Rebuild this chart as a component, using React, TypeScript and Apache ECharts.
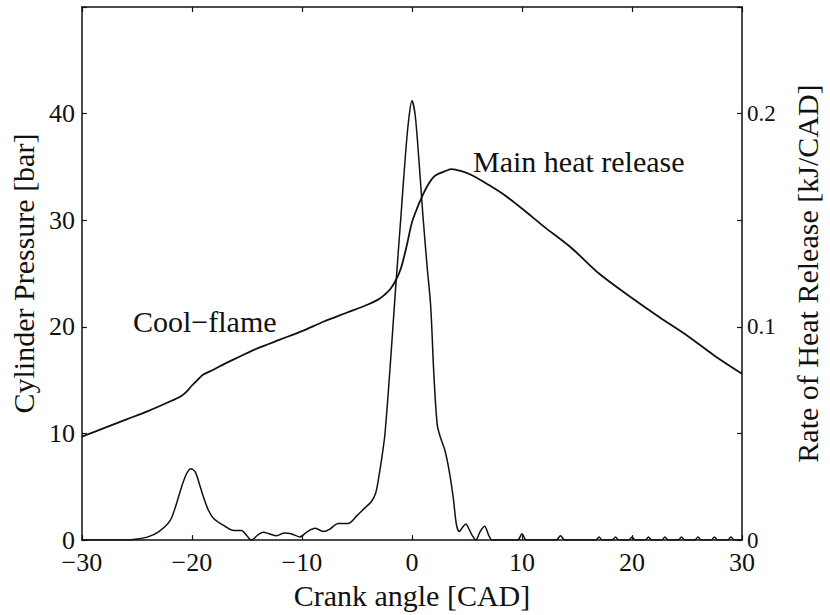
import React, { useEffect, useRef } from "react";
import * as echarts from "echarts";

// Crank angle [CAD] samples for the cylinder pressure trace
const pressureAngle = [
  -30, -28, -26, -24, -22, -21, -20.5, -20, -19.5, -19, -18, -17, -16, -14, -12, -10, -8, -6, -4, -3,
  -2.5, -2, -1.5, -1, -0.5, 0, 0.5, 1, 1.5, 2, 2.5, 3, 3.6, 4.5, 5.5, 7, 8.5, 10, 12, 14.5, 17, 20,
  22.5, 25, 27.5, 30,
];
// Cylinder pressure [bar]
const pressureValue = [
  9.7, 10.5, 11.3, 12.1, 13.0, 13.5, 13.9, 14.5, 15.0, 15.5, 16.0, 16.55, 17.05, 18.0, 18.8, 19.6,
  20.5, 21.3, 22.1, 22.6, 23.0, 23.5, 24.3, 25.5, 27.5, 29.8, 31.2, 32.4, 33.4, 34.1, 34.4, 34.6, 34.8,
  34.6, 34.2, 33.3, 32.3, 31.1, 29.4, 27.4, 25.0, 22.7, 20.9, 19.2, 17.3, 15.6,
];

// Crank angle [CAD] samples for the rate of heat release trace
const hrrAngle = [
  -30, -26, -25, -24, -23, -22, -21.5, -21, -20.5, -20.1, -19.7, -19.3, -19, -18.5, -18, -17, -16.2,
  -15.5, -15, -14.6, -14, -13.5, -13, -12.3, -11.6, -11, -10.2, -9.5, -8.8, -8, -7.5, -6.7, -5.8, -5,
  -4.3, -3.7, -3.3, -3, -2.7, -2.45, -2, -1.5, -1, -0.6, -0.3, 0, 0.3, 0.65, 1, 1.4, 1.7, 2, 2.3, 2.6,
  3, 3.4, 3.75, 4.05, 4.3, 4.6, 4.9, 5.2, 5.5, 5.8, 6.2, 6.6, 7, 7.3, 9.6, 10, 10.4, 13.1, 13.5, 13.9,
  16.7, 17, 17.3, 18.2, 18.5, 18.8, 19.7, 20, 20.3, 21.2, 21.5, 21.8, 22.7, 23, 23.3, 24.2, 24.5, 24.8,
  25.7, 26, 26.3, 27.2, 27.5, 27.8, 28.7, 29, 29.3, 30,
];
// Rate of heat release [kJ/CAD]
const hrrValue = [
  0, 0, 0.0005, 0.0015, 0.004, 0.009, 0.0155, 0.024, 0.031, 0.0335, 0.032, 0.026, 0.021, 0.014, 0.01,
  0.0065, 0.0045, 0.0045, 0.002, 0, 0.0025, 0.0037, 0.003, 0.002, 0.0033, 0.003, 0.0015, 0.004, 0.0055,
  0.004, 0.005, 0.0078, 0.0078, 0.0115, 0.015, 0.018, 0.022, 0.03, 0.04, 0.05, 0.08, 0.117, 0.152,
  0.18, 0.197, 0.206, 0.199, 0.177, 0.152, 0.127, 0.11, 0.077, 0.054, 0.048, 0.042, 0.032, 0.02,
  0.007, 0.004, 0.006, 0.0075, 0.005, 0.002, 0, 0.004, 0.0065, 0.002, 0, 0, 0.003, 0, 0, 0.002, 0, 0,
  0.0015, 0, 0, 0.0015, 0, 0, 0.0015, 0, 0, 0.0015, 0, 0, 0.0015, 0, 0, 0.0015, 0, 0, 0.0015, 0, 0,
  0.0015, 0, 0, 0.0015, 0, 0,
];

const xTicks = [-30, -20, -10, 0, 10, 20, 30];
const rightLabels = [0, 0.1, 0.2];

const FONT = "'Liberation Serif', 'Times New Roman', serif";
const INK = "#111";

export default function App() {
  const ref = useRef<HTMLDivElement>(null);

  useEffect(() => {
    if (!ref.current) return;
    const chart = echarts.init(ref.current, undefined, { renderer: "svg" });

    const pressureData = pressureAngle.map((a, i) => [a, pressureValue[i]]);
    const hrrData = hrrAngle.map((a, i) => [a, hrrValue[i]]);

    const minus = (v: number) => (v < 0 ? "\u2212" + Math.abs(v) : String(v));

    const axisLine = { show: true, onZero: false, lineStyle: { color: INK, width: 1.5 } };
    const axisTick = { show: true, inside: true, length: 5, lineStyle: { color: INK, width: 1.2 } };

    chart.setOption({
      animation: false,
      backgroundColor: "#fff",
      grid: { left: 77, right: 75, top: 7, bottom: 68, containLabel: false },
      xAxis: [
        {
          type: "value",
          position: "bottom",
          min: -30,
          max: 30,
          interval: 10,
          axisLine,
          axisTick,
          splitLine: { show: false },
          axisLabel: {
            color: INK,
            fontFamily: FONT,
            fontSize: 26,
            margin: 9,
            formatter: (v: number) => (xTicks.includes(v) ? minus(v) : ""),
          },
          name: "Crank angle [CAD]",
          nameLocation: "middle",
          nameGap: 35,
          nameTextStyle: { color: INK, fontFamily: FONT, fontSize: 30 },
        },
        {
          type: "value",
          position: "top",
          min: -30,
          max: 30,
          interval: 10,
          axisLine,
          axisTick,
          splitLine: { show: false },
          axisLabel: { show: false },
        },
      ],
      yAxis: [
        {
          type: "value",
          position: "left",
          min: 0,
          max: 50,
          interval: 10,
          axisLine,
          axisTick,
          splitLine: { show: false },
          axisLabel: {
            color: INK,
            fontFamily: FONT,
            fontSize: 26,
            margin: 7,
            formatter: (v: number) => (v >= 50 ? "" : String(v)),
          },
          name: "Cylinder Pressure [bar]",
          nameLocation: "middle",
          nameRotate: 90,
          nameGap: 31,
          nameTextStyle: { color: INK, fontFamily: FONT, fontSize: 30 },
        },
        {
          type: "value",
          position: "right",
          min: 0,
          max: 0.25,
          interval: 0.05,
          axisLine,
          axisTick,
          splitLine: { show: false },
          axisLabel: {
            color: INK,
            fontFamily: FONT,
            fontSize: 23,
            margin: 5,
            formatter: (v: number) =>
              rightLabels.some((r) => Math.abs(r - v) < 1e-9) ? String(Math.round(v * 10) / 10) : "",
          },
          name: "Rate of Heat Release [kJ/CAD]",
          nameLocation: "middle",
          nameRotate: 90,
          nameGap: 50,
          nameTextStyle: { color: INK, fontFamily: FONT, fontSize: 30 },
        },
      ],
      series: [
        {
          name: "Cylinder Pressure",
          type: "line",
          xAxisIndex: 0,
          yAxisIndex: 0,
          data: pressureData,
          showSymbol: false,
          smooth: 0.3,
          lineStyle: { color: INK, width: 1.8 },
        },
        {
          name: "Rate of Heat Release",
          type: "line",
          xAxisIndex: 0,
          yAxisIndex: 1,
          data: hrrData,
          showSymbol: false,
          smooth: 0.3,
          lineStyle: { color: INK, width: 1.5 },
        },
      ],
      graphic: [
        {
          type: "text",
          left: 133,
          top: 306,
          style: { text: "Cool\u2212flame", fill: INK, font: `30px ${FONT}` },
        },
        {
          type: "text",
          left: 473,
          top: 146,
          style: { text: "Main heat release", fill: INK, font: `30px ${FONT}` },
        },
      ],
    });

    return () => chart.dispose();
  }, []);

  return (
    <div
      ref={ref}
      style={{ position: "fixed", left: 0, top: 0, width: 830, height: 615, background: "#fff" }}
    />
  );
}
